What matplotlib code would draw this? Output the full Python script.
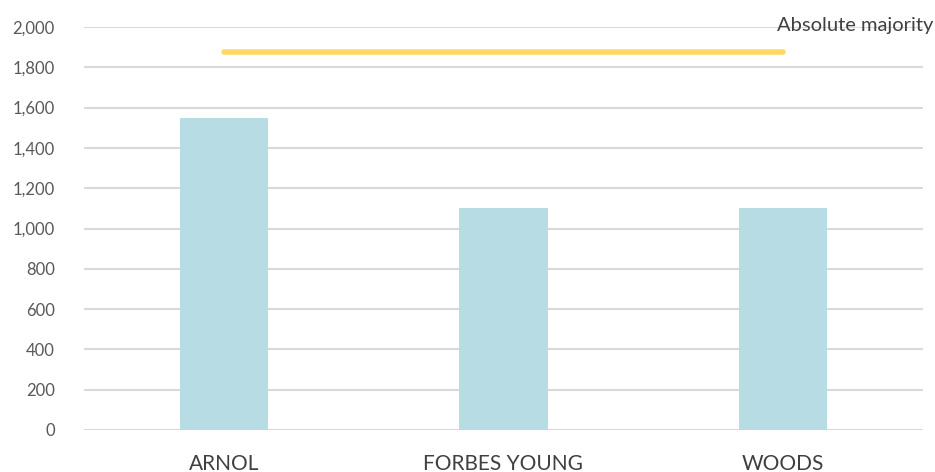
import matplotlib.pyplot as plt
from matplotlib.ticker import FuncFormatter

candidates = ["ARNOL", "FORBES YOUNG", "WOODS"]
votes = [1550, 1100, 1100]
majority = 1876
y_ticks = list(range(0, 2001, 200))

plt.rcParams["font.family"] = ["Lato", "DejaVu Sans"]

fig = plt.figure(figsize=(9.35, 4.72), dpi=100)
ax = fig.add_axes([84 / 935, 42 / 472, 839 / 935, 403 / 472])

x = list(range(len(candidates)))
ax.bar(x, votes, width=0.315, color="#B7DCE4", zorder=2)
ax.plot([x[0], x[-1]], [majority, majority], color="#FFD966", lw=4,
        solid_capstyle="round", zorder=3)

ax.set_xlim(-0.5, len(candidates) - 0.5)
ax.set_ylim(0, 2000)
ax.set_yticks(y_ticks)
ax.yaxis.set_major_formatter(FuncFormatter(lambda v, _: f"{int(v):,}"))
ax.set_xticks(x)
ax.set_xticklabels(candidates, fontsize=15, color="#404040")
ax.tick_params(axis="y", labelsize=12, labelcolor="#595959", length=0, pad=21)
ax.tick_params(axis="x", length=0, pad=17)

ax.grid(axis="y", color="#D9D9D9", lw=1.5, zorder=0)
ax.set_axisbelow(True)
for s in ax.spines.values():
    s.set_visible(False)

fig.text(933 / 935, 1 - 26 / 472, "Absolute majority", ha="right", va="center",
         fontsize=14.5, color="#404040")

fig.savefig("out.png", dpi=100)
